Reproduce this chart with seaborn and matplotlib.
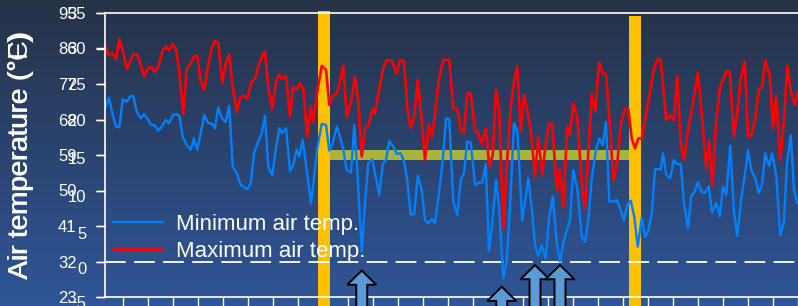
import numpy as np
import pandas as pd
import seaborn as sns
import matplotlib

matplotlib.use("Agg")
import matplotlib.pyplot as plt
from matplotlib.patches import FancyArrow
from matplotlib.transforms import ScaledTranslation

# Daily air temperature (day index, deg F)
min_days = [
    0, 1.6, 2.9, 4.4, 5.7, 7.1, 8.7, 10, 11.3, 12.7,
    14.3, 15.7, 17.1, 18.4, 19.7, 21.3, 22.7, 24.3, 25.6, 27.1,
    28.4, 29.7, 31.1, 32.7, 34.3, 35.6, 36.9, 38.4, 39.7, 41.1,
    42.7, 44, 45.3, 46.7, 48.3, 49.7, 51.1, 52.7, 54.3, 55.3,
    56.9, 58.3, 59.6, 61.3, 62.7, 64, 65.3, 66.9, 68.4, 69.7,
    70.9, 72.4, 74, 75.3, 76.7, 77.7, 79.1, 80.4, 82.4, 83.6,
    84.9, 86.7, 88.4, 89.7, 91.1, 92.7, 94, 95.3, 96.7, 98.4,
    99.7, 100.9, 102.7, 104, 105.3, 106.9, 108.4, 109.7, 111.1, 112.4,
    113.7, 115.3, 116.7, 118.3, 119.6, 120.9, 122.3, 123.7, 125.1, 126.7,
    128, 129.3, 130.7, 132, 133.6, 135.1, 136.4, 137.7, 139.3, 140.9,
    142.3, 143.6, 144.9, 146.3, 148, 149.6, 150.9, 152.3, 153.6, 154.9,
    156.4, 157.7, 159.3, 160.7, 162, 163.6, 164.9, 166.9, 169.3, 170.7,
    172, 173.3, 174.7, 176.3, 177.7, 179.1, 180.7, 182, 183.6, 186,
    187.3, 188.9, 190.7, 192, 193.3, 194.7, 196.4, 197.7, 199.1, 200.4,
    201.7, 203.3, 204.7, 206, 207.6, 208.9, 210.3, 211.7, 213.1, 214.7,
    216, 217.3, 218.7, 220, 222.3, 223.2, 224.5, 226.1, 227.5, 228.8,
    230.3, 231.6, 233.2, 234.5, 235.9, 237.2, 238.5, 239.9, 241.5, 242.8,
    244.5, 245.9, 247.2, 248.5, 250.1, 251.6, 252.9, 254.5, 255.9, 257.2,
    258.5, 260.1, 261.5, 262.8, 264.1, 265.6, 266.9, 268.5, 270.1, 271.5,
    272.8, 274.3, 275.6, 276.9,
]
min_temp_f = [
    70.8, 73.5, 69.6, 66.2, 66.0, 73.1, 72.5, 73.8, 74.0, 70.0,
    68.3, 69.4, 68.1, 66.6, 66.6, 65.2, 66.2, 67.9, 67.0, 69.1,
    69.4, 68.9, 63.6, 61.5, 60.3, 63.2, 60.3, 64.9, 69.1, 67.2,
    66.9, 65.8, 71.1, 68.3, 67.4, 71.5, 56.0, 54.4, 51.4, 51.0,
    50.3, 51.8, 59.4, 62.4, 64.5, 68.9, 56.0, 53.9, 60.7, 65.8,
    64.5, 65.8, 54.9, 56.5, 60.4, 58.6, 62.8, 56.5, 46.8, 53.1,
    60.7, 66.9, 66.6, 60.1, 62.0, 66.2, 63.6, 60.3, 55.2, 54.5,
    66.6, 55.2, 34.5, 46.8, 56.9, 57.9, 53.1, 48.9, 56.7, 57.7,
    62.6, 61.1, 59.3, 59.4, 57.3, 52.7, 43.8, 44.0, 53.7, 50.1,
    42.5, 41.7, 42.7, 41.8, 49.3, 57.7, 68.3, 68.1, 47.2, 43.8,
    52.7, 54.5, 62.4, 62.1, 51.4, 52.0, 52.0, 56.7, 34.7, 41.7,
    52.7, 45.1, 27.7, 32.0, 45.9, 67.0, 65.3, 42.3, 53.1, 45.5,
    36.2, 33.4, 36.2, 32.8, 43.4, 48.4, 36.6, 32.0, 37.5, 42.5,
    55.2, 50.6, 38.3, 37.0, 42.1, 53.1, 60.3, 63.2, 61.5, 67.4,
    47.2, 47.2, 47.6, 45.5, 42.5, 46.3, 47.4, 43.4, 35.8, 43.0,
    38.3, 39.6, 44.2, 55.4, 55.4, 59.4, 53.9, 53.1, 57.7, 56.7,
    56.7, 46.8, 40.4, 48.6, 49.7, 52.2, 49.7, 49.4, 51.0, 44.4,
    46.8, 43.4, 51.0, 48.9, 61.3, 44.6, 38.5, 48.0, 53.7, 60.3,
    55.2, 53.1, 49.4, 51.4, 59.4, 56.2, 59.4, 53.7, 38.7, 41.7,
    56.9, 64.1, 50.1, 46.8,
]
max_days = [
    0, 1.3, 3.1, 4.4, 5.7, 7.1, 8.7, 10.3, 11.3, 12.9,
    14.3, 15.7, 17.3, 18.7, 20, 21.3, 23.1, 24.4, 25.6, 27.1,
    28.4, 29.7, 31.3, 32.7, 34, 35.6, 36.9, 38.3, 39.7, 41.3,
    42.7, 44, 45.3, 46.9, 48.3, 49.7, 51.1, 52.7, 54, 55.3,
    56.9, 58.7, 60, 61.7, 63.1, 64, 65.3, 66.9, 68.4, 69.7,
    70.9, 72.4, 74, 75.3, 76.7, 78, 79.3, 80.9, 82.3, 83.3,
    84.9, 86.7, 88.4, 89.7, 91.1, 92.7, 94, 95.3, 96.7, 98.4,
    100, 101.3, 102.7, 104, 105.3, 107.1, 108, 109.3, 111.3, 112.7,
    114.7, 116.7, 118, 119.6, 120.9, 122.3, 123.7, 125.1, 126.7, 128,
    129.6, 130.9, 132.3, 133.6, 135.3, 137.7, 139.3, 140.9, 142.4, 143.6,
    144.9, 146.3, 148, 149.3, 150.7, 152.4, 153.7, 155.1, 156.4, 157.7,
    159.3, 160.7, 162.3, 163.6, 164.9, 166.3, 167.6, 168.9, 170.3, 172,
    173.3, 174.9, 176.3, 177.7, 178.9, 180.7, 182, 183.3, 184.9, 186,
    187.3, 188.9, 190.7, 192, 193.3, 194.7, 196.1, 197.6, 199.1, 200.4,
    202, 203.3, 204.9, 206.4, 208, 209.3, 210.7, 212, 213.3, 214.7,
    216, 217.7, 219.6, 221.3, 222.3, 224.5, 225.9, 227.5, 228.9, 230.3,
    231.6, 233.2, 235.2, 237.2, 238.9, 240.5, 241.6, 242.9, 244.5, 245.9,
    247.2, 248.5, 249.9, 251.6, 252.9, 254.3, 255.9, 257.2, 258.5, 260.1,
    261.5, 262.8, 264.1, 265.9, 267.2, 268.5, 270.1, 271.6, 272.9, 274.5,
    275.9, 277.2,
]
max_temp_f = [
    86.9, 84.4, 84.8, 83.3, 88.3, 85.6, 80.8, 83.1, 84.5, 84.5,
    81.8, 78.9, 81.2, 81.2, 80.1, 81.4, 85.6, 86.5, 85.6, 87.1,
    85.8, 80.1, 69.4, 81.0, 81.8, 83.9, 84.2, 77.6, 75.5, 81.8,
    86.1, 87.9, 87.5, 77.3, 82.2, 84.4, 76.3, 69.9, 73.6, 74.0,
    73.4, 77.6, 78.4, 82.2, 84.4, 85.2, 76.3, 70.6, 77.6, 79.5,
    78.4, 79.0, 68.7, 76.2, 75.7, 77.2, 75.9, 63.6, 71.2, 67.4,
    75.0, 81.6, 80.6, 71.7, 74.0, 74.6, 77.6, 81.6, 68.7, 72.5,
    78.9, 72.9, 58.6, 65.8, 66.2, 70.8, 69.6, 74.2, 81.0, 83.1,
    82.9, 79.7, 83.1, 82.7, 70.8, 65.8, 68.9, 78.0, 67.9, 57.7,
    66.6, 63.6, 71.2, 78.4, 83.1, 83.1, 70.8, 70.6, 65.3, 64.7,
    74.6, 74.5, 65.3, 64.5, 61.8, 65.8, 56.0, 59.0, 75.5, 70.0,
    40.4, 56.0, 71.2, 77.6, 81.4, 64.9, 74.2, 70.4, 65.3, 53.5,
    63.6, 53.9, 62.0, 67.0, 67.0, 50.1, 55.2, 45.9, 66.2, 64.1,
    72.1, 68.7, 51.8, 45.5, 59.4, 74.5, 70.0, 82.4, 79.7, 79.5,
    66.2, 52.7, 56.9, 67.0, 70.8, 70.6, 63.2, 60.7, 63.2, 63.2,
    67.9, 73.8, 81.0, 83.5, 83.1, 67.9, 69.1, 67.9, 78.9, 62.0,
    57.7, 65.3, 72.1, 79.9, 67.9, 55.6, 62.6, 51.0, 67.9, 75.9,
    78.0, 80.1, 80.1, 63.8, 69.6, 78.4, 82.7, 63.8, 63.8, 68.3,
    75.5, 76.2, 82.9, 79.3, 65.8, 74.0, 57.7, 67.9, 81.6, 74.6,
    71.7, 75.0,
]

# Event markers
event_days = [87.6, 212.0]          # orange bars
event_tops_f = [95.5, 94.2]
band_days = [90.0, 209.6]           # olive band at 15 C
band_temp_c = 15
frost_days = [102.7, 158.7, 172.0, 182.0]
frost_tips_f = [29.7, 25.6, 31.1, 31.1]
freeze_f = 32

f_ticks = [23, 32, 41, 50, 59, 68, 77, 86, 95]
c_ticks = [-5, 0, 5, 10, 15, 20, 25, 30, 35]
x_ticks = list(range(7, 278, 10))

# Chart chrome
_BG_TOP = (0.149, 0.196, 0.275)
_BG_BOTTOM = (0.184, 0.337, 0.596)
_INK = "#ffffff"
_MIN_COLOR = "#0080ff"
_MAX_COLOR = "#ff0000"
_EVENT = "#ffc000"
_BAND = "#a9b43a"
_ARROW = "#5b9bd5"
# the Celsius labels sit a few pixels lower than the Fahrenheit ones near the bottom
_C_LABEL_DROP_PX = [5, 6, 7, 5, 3, 0, 0, 0, 0]

W, H = 798, 306


def c_to_f(c):
    return c * 9 / 5 + 32


sns.set_style("ticks")
plt.rcParams["font.family"] = ["Liberation Sans", "DejaVu Sans"]

fig = plt.figure(figsize=(W / 100, H / 100), dpi=100)

# gradient backdrop over the whole picture
bg = fig.add_axes([0, 0, 1, 1], zorder=-10)
ramp = np.linspace(0, 1, 256)[:, None, None]
grad = np.array(_BG_TOP)[None, None, :] * (1 - ramp) + np.array(_BG_BOTTOM)[None, None, :] * ramp
bg.imshow(grad, aspect="auto", extent=[0, 1, 0, 1])
bg.axis("off")

ax = fig.add_axes([105 / W, 9 / H, 693 / W, 284 / H])
ax.patch.set_alpha(0)

lows = pd.DataFrame({"day": min_days, "temp_f": min_temp_f})
highs = pd.DataFrame({"day": max_days, "temp_f": max_temp_f})

ax.bar(event_days, [t - 20 for t in event_tops_f], bottom=20, width=4.8,
       color=_EVENT, linewidth=0, clip_on=False, zorder=1.1)
ax.plot(band_days, [c_to_f(band_temp_c)] * 2, color=_BAND, lw=7.2,
        solid_capstyle="butt", zorder=1.3)
ax.axhline(freeze_f, color=_INK, lw=1.3, dashes=(11.5, 4.6), zorder=1.6)

sns.lineplot(data=lows, x="day", y="temp_f", color=_MIN_COLOR, linewidth=1.7,
             estimator=None, sort=False, label="Minimum air temp.", ax=ax, zorder=2)
sns.lineplot(data=highs, x="day", y="temp_f", color=_MAX_COLOR, linewidth=1.9,
             estimator=None, sort=False, label="Maximum air temp.", ax=ax, zorder=2.1)

for day, tip in zip(frost_days, frost_tips_f):
    ax.add_patch(FancyArrow(day, 17, 0, tip - 17, width=4.4, head_width=11.6,
                            head_length=3.6, length_includes_head=True,
                            fc=_ARROW, ec="black", lw=1.4, clip_on=False, zorder=5))

ax.set_xlim(0, 277.2)
ax.set_ylim(23, 95)
ax.set_yticks(f_ticks)
ax.set_xticks(x_ticks)
ax.set_xlabel("")
ax.tick_params(axis="x", direction="out", length=9, width=1, color=_INK, labelbottom=False)
ax.tick_params(axis="y", direction="out", length=6.5, width=1, color=_INK,
               labelcolor=_INK, labelsize=12, pad=14)
for side in ("left", "bottom", "top"):
    ax.spines[side].set_color(_INK)
    ax.spines[side].set_linewidth(1.2)
ax.spines["right"].set_visible(False)

# second scale in Celsius, drawn on the same (left) side
ax2 = ax.twinx()
ax2.set_ylim(-5, 35)
ax2.set_yticks(c_ticks)
ax2.yaxis.tick_left()
ax2.yaxis.set_label_position("left")
ax2.tick_params(axis="y", direction="out", length=6.5, width=1, color=_INK,
                labelcolor=_INK, labelsize=12, pad=7)
for side in ax2.spines:
    ax2.spines[side].set_visible(False)

ax.set_ylabel("Air temperature (°F)", fontsize=20, color=_INK)
ax2.set_ylabel("Air temperature (°C)", fontsize=20, color=_INK)
ax.yaxis.set_label_coords(-0.102, 0.5)
ax2.yaxis.set_label_coords(-0.102, 0.5)

leg = ax.legend(loc="upper left", bbox_to_anchor=(0.130, 0.330), bbox_transform=fig.transFigure,
                borderaxespad=0, frameon=False, fontsize=16, handlelength=2.25,
                handletextpad=0.58, labelspacing=0.26)
for text in leg.get_texts():
    text.set_color(_INK)

fig.canvas.draw()
for tick, drop in zip(ax2.yaxis.get_major_ticks(), _C_LABEL_DROP_PX):
    tick.label1.set_transform(tick.label1.get_transform()
                              + ScaledTranslation(0, -drop / 100, fig.dpi_scale_trans))

fig.savefig("out.png", dpi=100)
